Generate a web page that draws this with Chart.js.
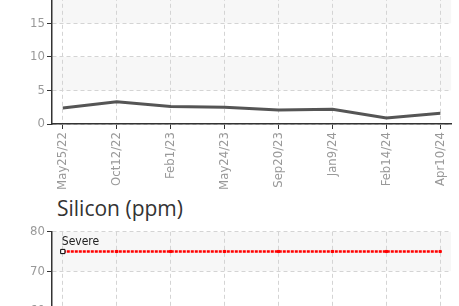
<!DOCTYPE html>
<html>
<head>
<meta charset="utf-8">
<script src="https://cdn.jsdelivr.net/npm/chart.js@4.4.1/dist/chart.umd.min.js"></script>
<style>
    html, body { margin: 0; padding: 0; width: 459px; height: 306px; overflow: hidden; background: #fff; position: relative; }
    .box { position: absolute; left: 0; width: 459px; }
    #title { position: absolute; left: 57px; top: 196px; font-family: "Open Sans", sans-serif; font-size: 21px; line-height: 1.2; color: #333; white-space: nowrap; }
</style>
</head>
<body>
<div class="box" style="top:-20px;height:214px"><canvas id="topChart"></canvas></div>
<div id="title">Silicon (ppm)</div>
<div class="box" style="top:222px;height:395px"><canvas id="siliconChart"></canvas></div>
<script>
const dates = ['May25/22', 'Oct12/22', 'Feb1/23', 'May24/23', 'Sep20/23', 'Jan9/24', 'Feb14/24', 'Apr10/24'];
const topValues = [2.4, 3.3, 2.6, 2.5, 2.1, 2.2, 0.9, 1.6];
const topTicks = [0, 5, 10, 15, 20];
const severeLabel = 'Severe';
const severeValues = [75, 75, 75, 75, 75, 75, 75, 75];
const siliconTicks = [0, 10, 20, 30, 40, 50, 60, 70, 80];

const tickFont = {family: '"Liberation Sans Narrow", "DejaVu Sans Condensed", Roboto, sans-serif', size: 13};

// alternate grey bands between y ticks
let bands = {
    id: 'bands',
    beforeDraw(chart) {
        let ctx = chart.ctx, a = chart.chartArea, y = chart.scales.y;
        ctx.save();
        ctx.fillStyle = '#f7f7f7';
        for (let i = 0; i < y.ticks.length - 1; i++) {
            if (i % 2 === 1) {
                let y1 = y.getPixelForValue(y.ticks[i].value);
                let y2 = y.getPixelForValue(y.ticks[i + 1].value);
                ctx.fillRect(a.left, y2, a.right - a.left, y1 - y2);
            }
        }
        ctx.restore();
    }
};

let severeText = {
    id: 'severeText',
    afterDatasetsDraw(chart) {
        let pt = chart.getDatasetMeta(0).data[0];
        let ctx = chart.ctx;
        ctx.save();
        ctx.font = '12px "Liberation Sans Narrow", "DejaVu Sans Condensed", sans-serif';
        ctx.fillStyle = '#222';
        ctx.textAlign = 'left';
        ctx.textBaseline = 'bottom';
        ctx.fillText(severeLabel, pt.x - 1, pt.y - 4);
        ctx.restore();
    }
};

let xScale = () => ({
    type: 'linear',
    min: -0.2,
    max: dates.length - 1 + 0.2,
    afterBuildTicks: (s) => { s.ticks = dates.map((d, i) => ({value: i})); },
    afterFit: (s) => { s.height = 70; },
    ticks: {
        color: '#999',
        font: tickFont,
        minRotation: 90,
        maxRotation: 90,
        padding: 3,
        callback: (v) => dates[v]
    },
    grid: {color: '#d4d4d4', tickColor: '#333', tickLength: 5},
    border: {display: true, color: '#333', width: 1.5, dash: [4, 3]}
});

let yScale = (ticks) => ({
    min: ticks[0],
    max: ticks[ticks.length - 1],
    afterBuildTicks: (s) => { s.ticks = ticks.map((v) => ({value: v})); },
    afterFit: (s) => { s.width = 52; },
    ticks: {color: '#999', font: tickFont, padding: 2},
    grid: {color: '#d4d4d4', tickColor: '#333', tickLength: 5},
    border: {display: true, color: '#333', width: 1.5, dash: [4, 3]}
});

let topChart = new Chart(document.getElementById('topChart'), {
    type: 'line',
    data: {
        datasets: [{
            data: dates.map((d, i) => ({x: i, y: topValues[i]})),
            borderColor: '#555',
            borderWidth: 3,
            pointRadius: 0,
            tension: 0
        }]
    },
    options: {
        responsive: true,
        maintainAspectRatio: false,
        animation: false,
        layout: {padding: {top: 8, right: 2, left: 0, bottom: 0}},
        plugins: {legend: {display: false}, tooltip: {enabled: false}},
        scales: {x: xScale(), y: yScale(topTicks)}
    },
    plugins: [bands]
});

let siliconChart = new Chart(document.getElementById('siliconChart'), {
    type: 'line',
    data: {
        datasets: [{
            data: dates.map((d, i) => ({x: i, y: severeValues[i]})),
            borderColor: '#ff0000',
            borderWidth: 2.5,
            borderDash: [3, 1],
            pointStyle: 'rect',
            pointRadius: dates.map((d, i) => i === 0 ? 3 : 1.5),
            pointBackgroundColor: dates.map((d, i) => i === 0 ? '#fff' : '#ff0000'),
            pointBorderColor: dates.map((d, i) => i === 0 ? '#000' : '#ff0000'),
            pointBorderWidth: 1,
            tension: 0
        }]
    },
    options: {
        responsive: true,
        maintainAspectRatio: false,
        animation: false,
        layout: {padding: {top: 6, right: 2, left: 0, bottom: 0}},
        plugins: {legend: {display: false}, tooltip: {enabled: false}},
        scales: {x: xScale(), y: yScale(siliconTicks)}
    },
    plugins: [bands, severeText]
});
</script>
</body>
</html>
